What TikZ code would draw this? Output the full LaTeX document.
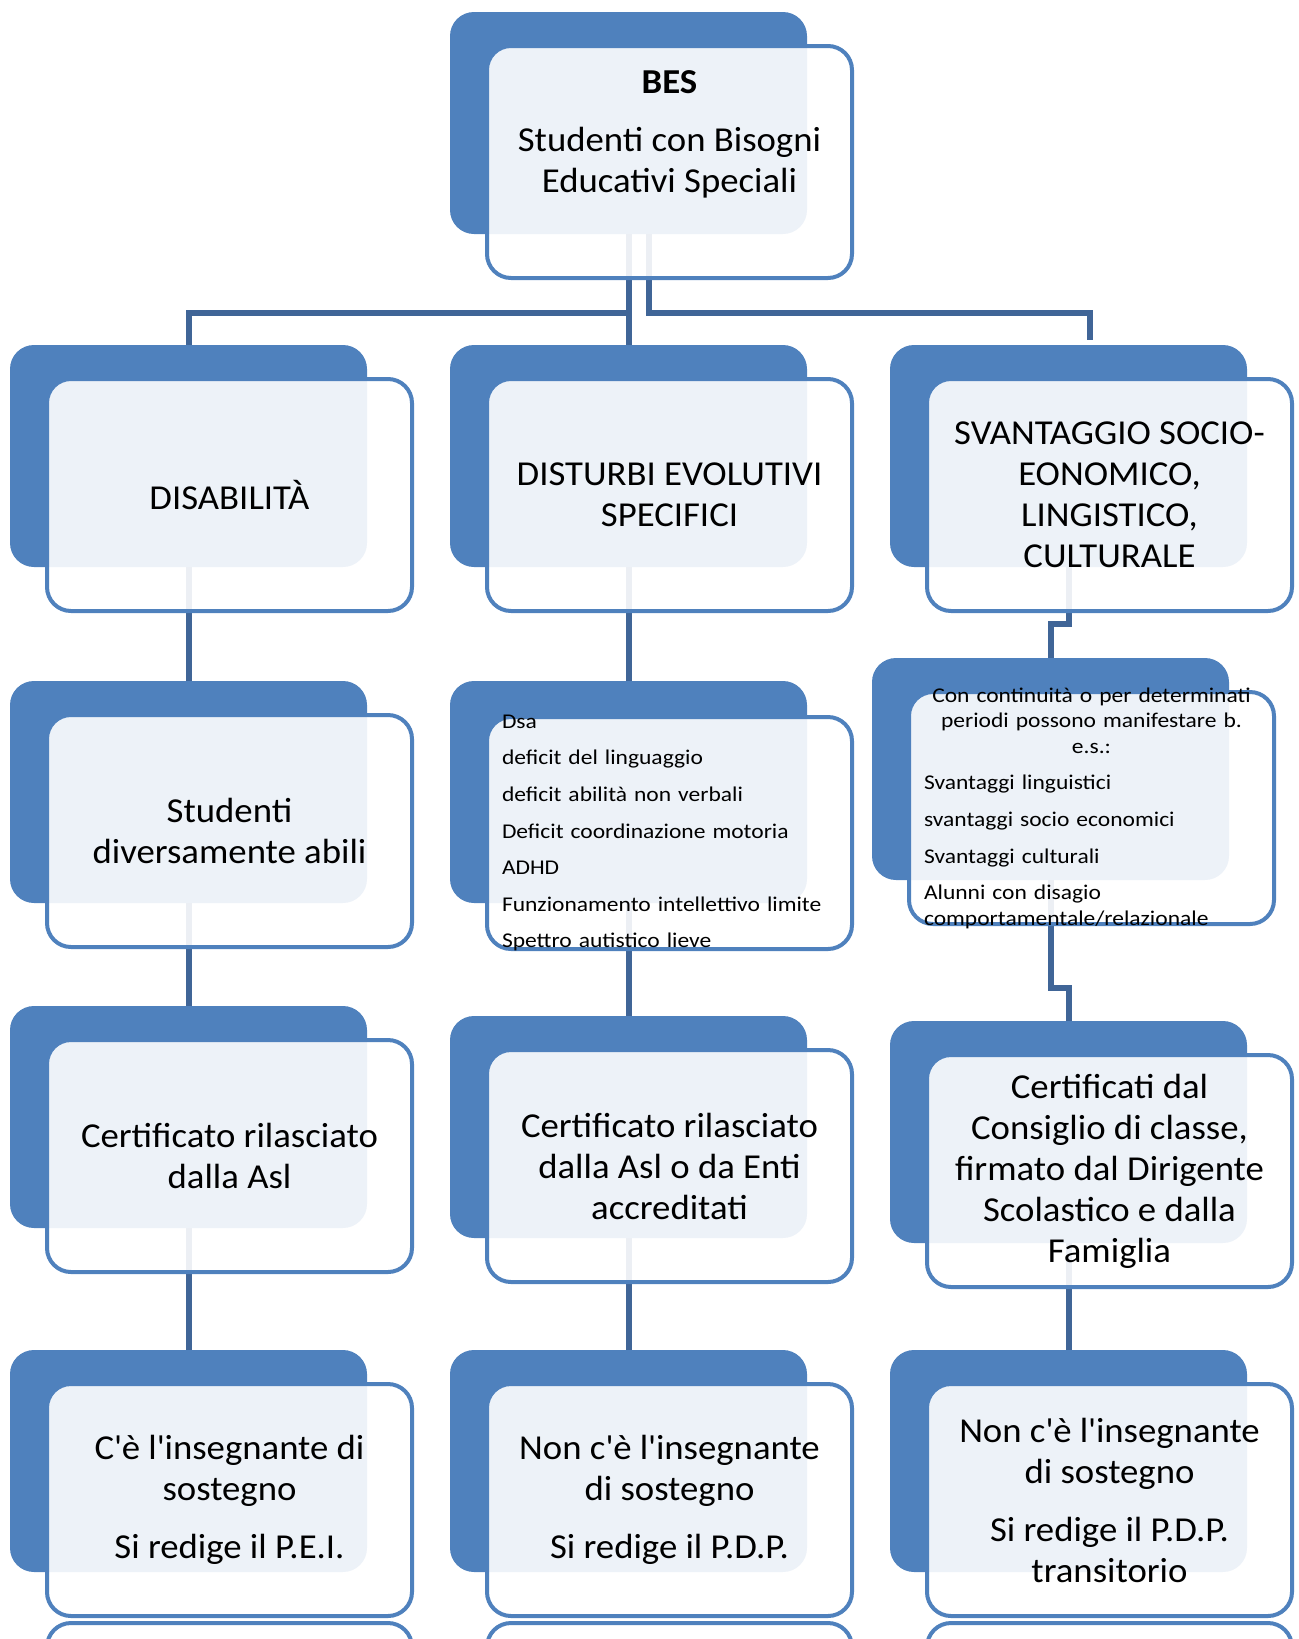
\documentclass[tikz,border=0pt]{standalone}
\usepackage{fontspec}
\setmainfont{Carlito}[FakeStretch=1.05]
\newfontfamily\listfont{Carlito}[FakeStretch=1.12]
\definecolor{cardblue}{RGB}{79,129,189}
\definecolor{linkblue}{RGB}{64,101,151}

\begin{document}
\begin{tikzpicture}[x=0.5pt,y=-0.5pt,
  backcard/.style={fill=cardblue,rounded corners=12pt,minimum width=178.5pt,minimum height=111pt,inner sep=0pt},
  frontcard/.style={draw=cardblue,line width=2pt,fill=white,fill opacity=0.9,text opacity=1,rounded corners=12pt,
    minimum width=182.5pt,minimum height=116pt,inner sep=0pt,align=center,font=\fontsize{17.5}{20.5}\selectfont},
  listtext/.style={text opacity=1,inner sep=0pt,text width=167.5pt,align=left,font=\listfont\fontsize{10.5}{18.3}\selectfont},
  link/.style={draw=linkblue,line width=3pt}]
\useasboundingbox (0,0) rectangle (1298,1639);
\clip (0,0) rectangle (1298,1639);

\node[backcard] (bes) at (628.5,123) {};
\node[backcard] (disab) at (188.5,456) {};
\node[backcard] (disturbi) at (628.5,456) {};
\node[backcard] (svant) at (1068.5,456) {};
\node[backcard] (abili) at (188.5,792) {};
\node[backcard] (dsa) at (628.5,792) {};
\node[backcard] (bisogni) at (1050.5,769) {};
\node[backcard] (certasl) at (188.5,1117) {};
\node[backcard] (certenti) at (628.5,1127) {};
\node[backcard] (certcons) at (1068.5,1132) {};
\node[backcard] (pei) at (188.5,1461) {};
\node[backcard] (pdp) at (628.5,1461) {};
\node[backcard] (pdpt) at (1068.5,1461) {};

\draw[link] (bes.south) -- (disturbi.north);
\draw[link] (bes.south) -- ++(0,79) -| (disab.north);
\draw[link] ([xshift=10pt]bes.south) -- ++(0,79) -| ([xshift=10.75pt,yshift=2.5pt]svant.north);
\draw[link] (disab.south) -- (abili.north);
\draw[link] (disturbi.south) -- (dsa.north);
\draw[link] (svant.south) -- ++(0,57) -| (bisogni.north);
\draw[link] (abili.south) -- (certasl.north);
\draw[link] (dsa.south) -- (certenti.north);
\draw[link] (bisogni.south) -- ++(0,108) -| (certcons.north);
\draw[link] (certasl.south) -- (pei.north);
\draw[link] (certenti.south) -- (pdp.north);
\draw[link] (certcons.south) -- (pdpt.north);

\node[frontcard] (bes-f) at (669.5,162) {\textbf{BES}\\[8.5pt]Studenti con Bisogni\\Educativi Speciali\\[10pt]\mbox{}};
\node[frontcard] (disab-f) at (229.5,495) {DISABILITÀ};
\node[frontcard] (disturbi-f) at (669.5,495) {DISTURBI EVOLUTIVI\\SPECIFICI};
\node[frontcard] (svant-f) at (1109.5,495) {SVANTAGGIO SOCIO-\\EONOMICO,\\LINGISTICO,\\CULTURALE};
\node[frontcard] (abili-f) at (229.5,831) {Studenti\\diversamente abili};
\node[frontcard,label={[listtext]center:Dsa\\deficit del linguaggio\\deficit abilità non verbali\\Deficit coordinazione motoria\\ADHD\\Funzionamento intellettivo limite\\Spettro autistico lieve}] (dsa-f) at (669.5,833) {};
\node[frontcard,label={[listtext,font=\listfont\fontsize{10.5}{12.8}\selectfont]center:\makebox[167.5pt]{Con continuità o per determinati}\\\makebox[167.5pt]{periodi possono manifestare b.}\\\makebox[167.5pt]{e.s.:}\\[5.5pt]Svantaggi linguistici\\[5.5pt]svantaggi socio economici\\[5.5pt]Svantaggi culturali\\[5.5pt]Alunni con disagio\\comportamentale/relazionale}] (bisogni-f) at (1091.5,808) {};
\node[frontcard] (certasl-f) at (229.5,1156) {Certificato rilasciato\\dalla Asl};
\node[frontcard] (certenti-f) at (669.5,1166) {Certificato rilasciato\\dalla Asl o da Enti\\accreditati};
\node[frontcard] (certcons-f) at (1109.5,1171) {Certificati dal\\Consiglio di classe,\\firmato dal Dirigente\\Scolastico e dalla\\Famiglia};
\node[frontcard] (pei-f) at (229.5,1500) {C\textquotesingle è l\textquotesingle insegnante di\\sostegno\\[8.5pt]Si redige il P.E.I.};
\node[frontcard] (pdp-f) at (669.5,1500) {Non c\textquotesingle è l\textquotesingle insegnante\\di sostegno\\[8.5pt]Si redige il P.D.P.};
\node[frontcard] (pdpt-f) at (1109.5,1500) {Non c\textquotesingle è l\textquotesingle insegnante\\di sostegno\\[8.5pt]Si redige il P.D.P.\\transitorio};

\node[frontcard] (next1) at (229.5,1739) {};
\node[frontcard] (next2) at (669.5,1739) {};
\node[frontcard] (next3) at (1109.5,1739) {};
\end{tikzpicture}
\end{document}
